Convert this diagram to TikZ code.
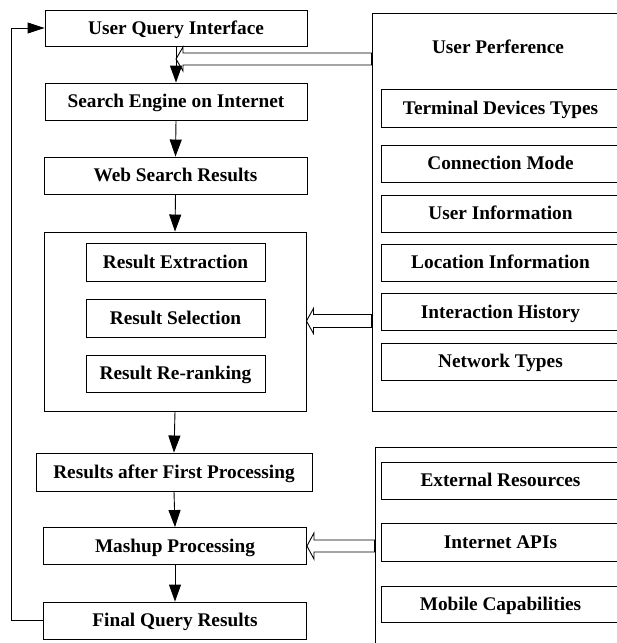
\documentclass[tikz,border=0pt]{standalone}
\usepackage{fontspec}
\setmainfont{Liberation Serif}
\usetikzlibrary{arrows.meta,calc}
\begin{document}
\begin{tikzpicture}[x=1pt,y=-1pt,line width=0.9pt,
  box/.style={draw,fill=white,inner sep=0pt,text height=16pt,text depth=4pt,font=\bfseries\fontsize{19.3}{22}\selectfont},
  lbl/.style={inner sep=0pt,text height=16pt,text depth=4pt,font=\bfseries\fontsize{19.3}{22}\selectfont},
  grp/.style={draw,fill=white,inner sep=0pt},
  flow/.style={-{Triangle[length=17pt,width=12pt]}},
  hollow/.style={draw,fill=white,line join=miter}]
\clip (0,0) rectangle (617,643);
\fill[white] (0,0) rectangle (617,643);

% right-hand groups
\node[grp,minimum width=258pt,minimum height=398pt] (up) at (501,212) {};
\node[lbl] (uplbl) at (498,47) {User Perference};
\node[box,minimum width=239pt,minimum height=38pt] (tdt) at (500.5,108) {Terminal Devices Types};
\node[box,minimum width=239pt,minimum height=37pt] (cm) at (500.5,163.5) {Connection Mode};
\node[box,minimum width=239pt,minimum height=37pt] (ui) at (500.5,213.5) {User Information};
\node[box,minimum width=239pt,minimum height=37pt] (li) at (500.5,262.5) {Location Information};
\node[box,minimum width=239pt,minimum height=37pt] (ih) at (500.5,312) {Interaction History};
\node[box,minimum width=239pt,minimum height=37pt] (nt) at (500.5,361.5) {Network Types};

\node[grp,minimum width=255pt,minimum height=213pt] (ext) at (502.5,553.5) {};
\node[box,minimum width=239pt,minimum height=37pt] (er) at (500.5,480.5) {External Resources};
\node[box,minimum width=239pt,minimum height=38pt] (api) at (500.5,542) {Internet APIs};
\node[box,minimum width=239pt,minimum height=36pt] (mc) at (500.5,604) {Mobile Capabilities};

% left column
\node[box,minimum width=262pt,minimum height=36pt] (uqi) at (176,28) {User Query Interface};
\node[box,minimum width=262pt,minimum height=37pt] (se) at (176,101.5) {Search Engine on Internet};
\node[box,minimum width=263pt,minimum height=37pt] (wsr) at (175.5,175.5) {Web Search Results};
\node[grp,minimum width=262pt,minimum height=179pt] (proc) at (175,321.5) {};
\node[box,minimum width=179pt,minimum height=38pt] (rex) at (175.5,262.5) {Result Extraction};
\node[box,minimum width=179pt,minimum height=38pt] (rsel) at (175.5,318) {Result Selection};
\node[box,minimum width=179pt,minimum height=37pt] (rrr) at (175.5,373.5) {Result Re-ranking};
\node[box,minimum width=276pt,minimum height=38pt] (rafp) at (174,472) {Results after First Processing};
\node[box,minimum width=263pt,minimum height=37pt] (mash) at (175,546) {Mashup Processing};
\node[box,minimum width=263pt,minimum height=37pt] (fqr) at (175,620.5) {Final Query Results};

% hollow arrows
\coordinate (t1) at (176,59);
\draw[hollow] (t1) -- ++(7,-12) -- ++(0,6) -- ($(up.west |- t1)+(0,-6)$) -- ($(up.west |- t1)+(0,6)$) -- ($(t1)+(7,6)$) -- ($(t1)+(7,12)$) -- cycle;
\coordinate (t2) at (proc.east |- 0,321);
\draw[hollow] (t2) -- ++(7,-12.5) -- ++(0,6) -- ($(up.west |- t2)+(0,-6.5)$) -- ($(up.west |- t2)+(0,6.5)$) -- ($(t2)+(7,6.5)$) -- ($(t2)+(7,12.5)$) -- cycle;
\coordinate (t3) at (mash.east);
\draw[hollow] (t3) -- ++(7,-13) -- ++(0,7) -- ($(ext.west |- t3)+(0,-6)$) -- ($(ext.west |- t3)+(0,6)$) -- ($(t3)+(7,6)$) -- ($(t3)+(7,13)$) -- cycle;

% flow arrows
\draw[flow] (uqi.south -| t1) -- (se.north -| t1);
\draw[flow] (se.south) -- (wsr.north);
\draw[flow] (wsr.south) -- (proc.north);
\draw[flow] (proc.south) -- (rafp.north);
\draw[flow] (rafp.south) -- (mash.north);
\draw[flow] (mash.south) -- (fqr.north);
\draw[-{Triangle[length=17pt,width=11pt]}] (fqr.west) -- ++(-32,0) |- (uqi.west);
\end{tikzpicture}
\end{document}
